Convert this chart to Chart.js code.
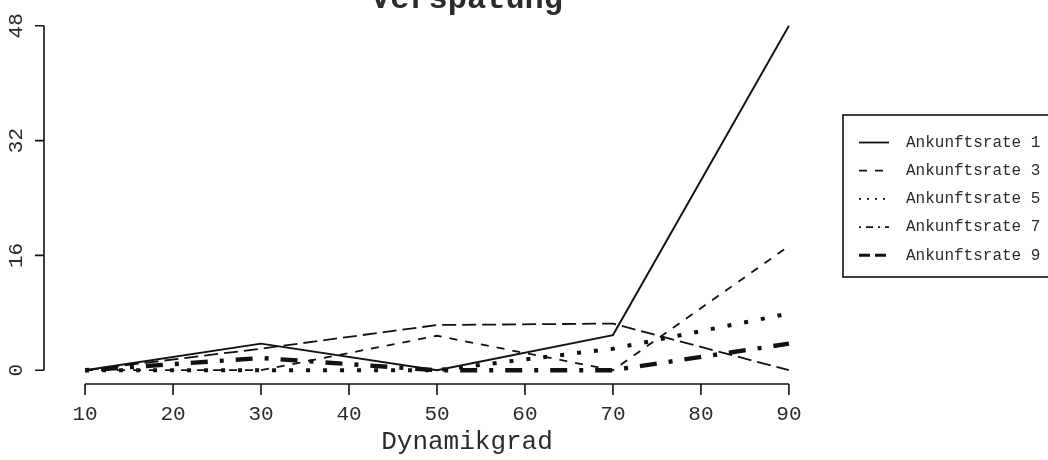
<!DOCTYPE html>
<html>
<head>
<meta charset="utf-8">
<script src="https://cdn.jsdelivr.net/npm/chart.js@4.4.1/dist/chart.umd.min.js"></script>
<style>
  html, body { margin: 0; padding: 0; background: #ffffff; }
  #wrap { width: 1048px; height: 460px; position: relative; }
</style>
</head>
<body>
<div id="wrap"><canvas id="c" width="1048" height="460"></canvas></div>
<script>
// Mittlere Verspätung je Dynamikgrad, eine Reihe pro Ankunftsrate
const dynamikgrad = [10, 30, 50, 70, 90];
const rate1 = [0, 3.7, 0, 4.9, 48];
const rate3 = [0, 0, 4.8, 0, 17.3];
const rate5 = [0, 0, 0, 3.0, 7.9];
const rate7 = [0, 1.7, 0, 0, 3.7];
const rate9 = [0, 3.0, 6.3, 6.5, 0];
const seriesNames = ['Ankunftsrate 1', 'Ankunftsrate 3', 'Ankunftsrate 5', 'Ankunftsrate 7', 'Ankunftsrate 9'];
const xTickLabels = [10, 20, 30, 40, 50, 60, 70, 80, 90];
const yTickLabels = [0, 16, 32, 48];
const chartTitle = 'Verspätung';
const xAxisTitle = 'Dynamikgrad';

const FONT = '"Liberation Mono", "Courier New", monospace';
const INK = '#111111';
const TEXT = '#2b2b2b';

// line styles of the plotted series
const lineDash = [[], [8, 8], [4, 13], [4, 12, 17, 12], [14, 6]];
const lineWidth = [1.9, 1.8, 4, 4.4, 1.8];
// line styles of the legend samples
const legendDash = [[], [8, 8], [2, 6], [2, 5, 7, 5], [11, 5]];
const legendWidth = [1.8, 1.8, 1.8, 1.8, 3];

const values = [rate1, rate3, rate5, rate7, rate9];
const datasets = values.map((vals, i) => ({
  label: seriesNames[i],
  data: dynamikgrad.map((g, j) => ({ x: g, y: vals[j] })),
  borderColor: INK,
  borderWidth: lineWidth[i],
  borderDash: lineDash[i],
  borderCapStyle: 'butt',
  borderJoinStyle: 'miter',
  pointRadius: 0,
  tension: 0,
  fill: false
}));

// detached axes, tick labels, titles and boxed legend
const rStyleFrame = {
  id: 'rStyleFrame',
  afterDraw(chart) {
    const { ctx, chartArea: a, scales: { x, y } } = chart;
    ctx.save();
    ctx.strokeStyle = INK;
    ctx.fillStyle = TEXT;
    ctx.lineWidth = 1.6;
    ctx.lineCap = 'butt';
    ctx.setLineDash([]);

    // x axis
    const xa = x.getPixelForValue(xTickLabels[0]);
    const xb = x.getPixelForValue(xTickLabels[xTickLabels.length - 1]);
    const yb = a.bottom;
    ctx.beginPath();
    ctx.moveTo(xa, yb); ctx.lineTo(xb, yb);
    xTickLabels.forEach(v => {
      const px = x.getPixelForValue(v);
      ctx.moveTo(px, yb); ctx.lineTo(px, yb + 11);
    });
    ctx.stroke();
    ctx.font = '21px ' + FONT;
    ctx.textAlign = 'center';
    ctx.textBaseline = 'alphabetic';
    xTickLabels.forEach(v => ctx.fillText(String(v), x.getPixelForValue(v), 420));

    // y axis
    const xl = a.left;
    const y0 = y.getPixelForValue(yTickLabels[0]);
    const y1 = y.getPixelForValue(yTickLabels[yTickLabels.length - 1]);
    ctx.beginPath();
    ctx.moveTo(xl, y0); ctx.lineTo(xl, y1);
    yTickLabels.forEach(v => {
      const py = y.getPixelForValue(v);
      ctx.moveTo(xl, py); ctx.lineTo(xl - 9, py);
    });
    ctx.stroke();
    yTickLabels.forEach(v => {
      ctx.save();
      ctx.translate(22, y.getPixelForValue(v));
      ctx.rotate(-Math.PI / 2);
      ctx.textAlign = 'center';
      ctx.textBaseline = 'alphabetic';
      ctx.fillText(String(v), 0, 0);
      ctx.restore();
    });

    // titles
    ctx.textAlign = 'center';
    ctx.font = '26px ' + FONT;
    ctx.fillText(xAxisTitle, 467, 449);
    ctx.font = 'bold 32px ' + FONT;
    ctx.fillText(chartTitle, 467, 8);

    // legend
    const lx = 843, ly = 115, lw = 260, lh = 162;
    ctx.lineWidth = 1.6;
    ctx.strokeRect(lx, ly, lw, lh);
    ctx.font = '16px ' + FONT;
    ctx.textAlign = 'left';
    ctx.textBaseline = 'middle';
    chart.data.datasets.forEach((ds, i) => {
      const ry = 142.5 + i * 28.2;
      ctx.beginPath();
      ctx.setLineDash(legendDash[i]);
      ctx.lineWidth = legendWidth[i];
      ctx.moveTo(859, ry); ctx.lineTo(889, ry);
      ctx.stroke();
      ctx.setLineDash([]);
      ctx.fillText(ds.label, 906, ry);
    });
    ctx.restore();
  }
};

new Chart(document.getElementById('c'), {
  type: 'line',
  data: { datasets },
  options: {
    responsive: false,
    devicePixelRatio: 1,
    animation: false,
    layout: { padding: { left: 44, right: 158, top: 12, bottom: 76 } },
    plugins: { legend: { display: false }, title: { display: false }, tooltip: { enabled: false } },
    scales: {
      x: { type: 'linear', min: 5.334, max: 101.49, display: false },
      y: { type: 'linear', min: -1.92, max: 49.92, display: false }
    }
  },
  plugins: [rStyleFrame]
});
</script>
</body>
</html>
